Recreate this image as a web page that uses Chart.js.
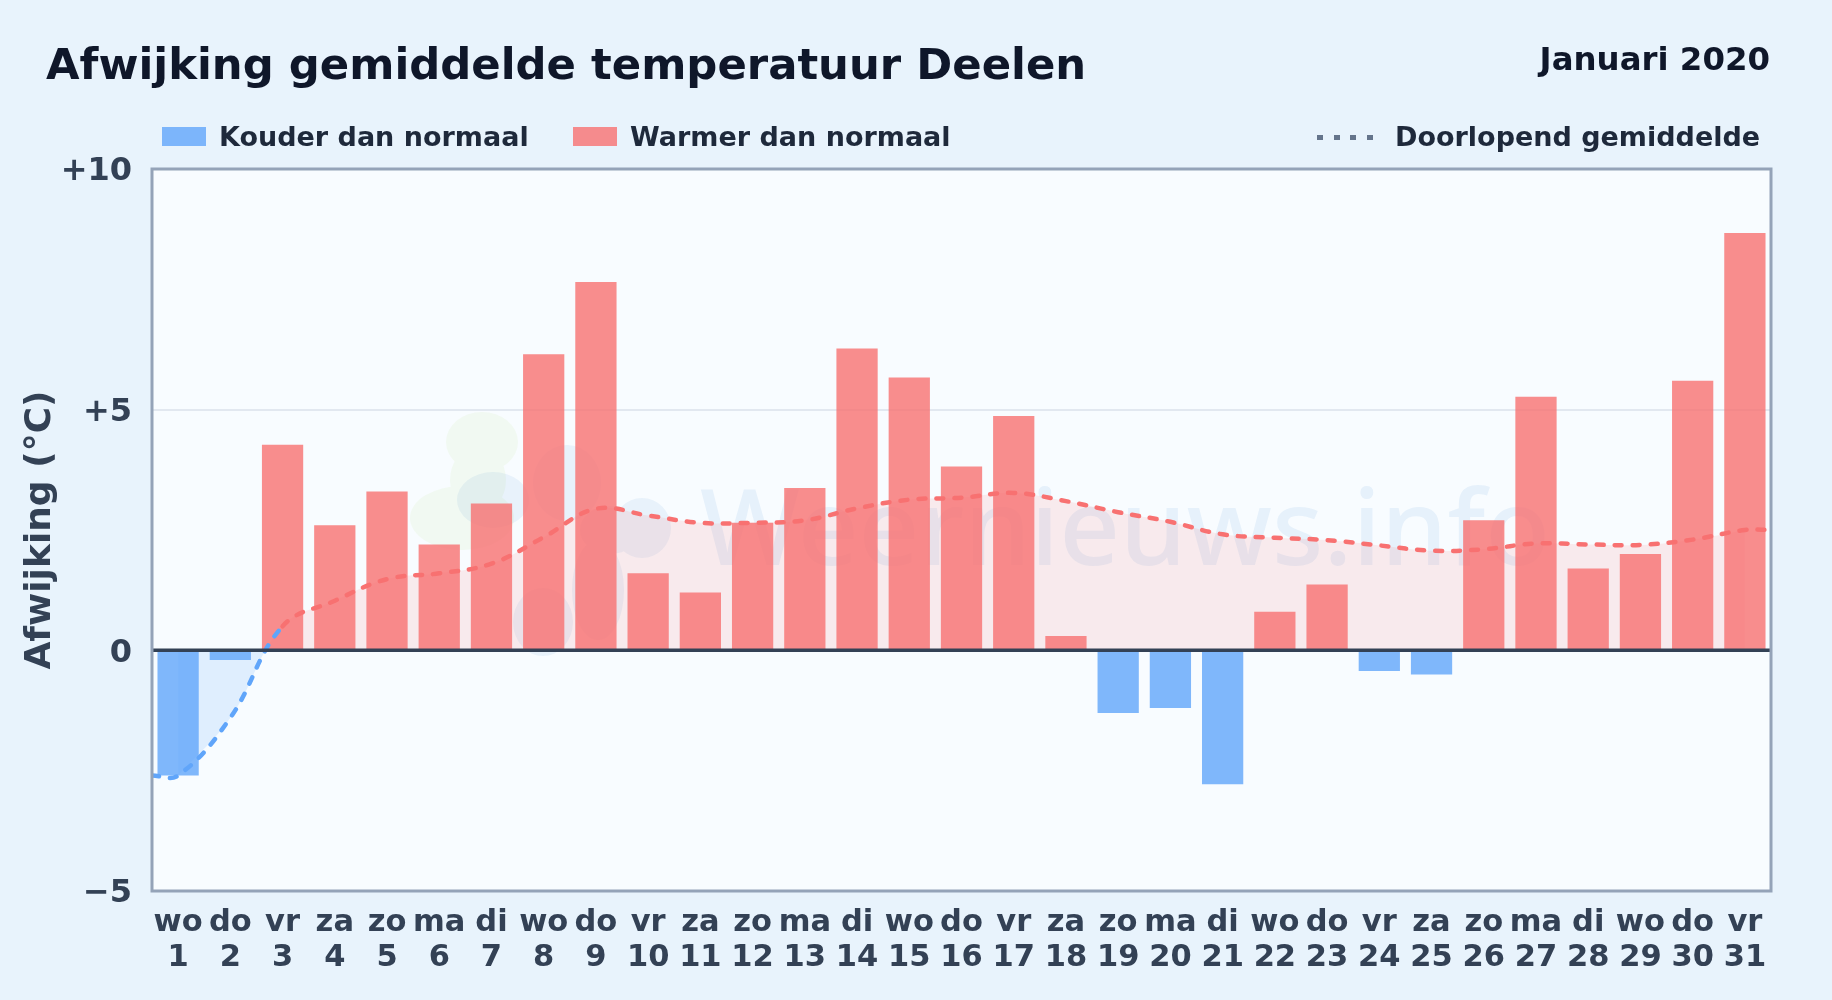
<!DOCTYPE html>
<html lang="nl">
<head>
<meta charset="utf-8">
<title>Afwijking gemiddelde temperatuur Deelen</title>
<script src="https://cdn.jsdelivr.net/npm/chart.js@4/dist/chart.umd.min.js"></script>
<style>
    html, body { margin: 0; padding: 0; }
    body {
        width: 1832px; height: 1000px; overflow: hidden; position: relative;
        background: #e8f3fc;
        font-family: 'DejaVu Sans', sans-serif; font-weight: bold;
    }
    canvas { position: absolute; left: 0; top: 0; }
    .txt { position: absolute; white-space: nowrap; line-height: 1; }
    #title { left: 46px; top: 43px; font-size: 43.35px; color: #0f172a; }
    #period { right: 62px; top: 43px; font-size: 32.4px; color: #0f172a; }
    .swatch { position: absolute; top: 127px; width: 44px; height: 19px; }
    .legend { top: 123px; font-size: 27px; color: #1e293b; }
    #dots {
        position: absolute; left: 1317px; top: 135px; width: 56px; height: 5px;
        background: repeating-linear-gradient(90deg, #64748b 0 6px, transparent 6px 16.6px);
    }
</style>
</head>
<body>
<canvas id="chartDeviation" width="1832" height="1000"></canvas>
<div class="txt" id="title">Afwijking gemiddelde temperatuur Deelen</div>
<div class="txt" id="period">Januari 2020</div>
<div class="swatch" style="left:162px;background:rgba(96,165,250,0.8)"></div>
<div class="txt legend" style="left:219px">Kouder dan normaal</div>
<div class="swatch" style="left:573px;background:rgba(248,113,113,0.8)"></div>
<div class="txt legend" style="left:630px">Warmer dan normaal</div>
<div id="dots"></div>
<div class="txt legend" style="left:1395px">Doorlopend gemiddelde</div>
<script>
const dayNames = ['wo','do','vr','za','zo','ma','di','wo','do','vr','za','zo','ma','di','wo','do','vr','za','zo','ma','di','wo','do','vr','za','zo','ma','di','wo','do','vr'];
const days = [1,2,3,4,5,6,7,8,9,10,11,12,13,14,15,16,17,18,19,20,21,22,23,24,25,26,27,28,29,30,31];
const deviations = [-2.6,-0.2,4.27,2.6,3.3,2.2,3.05,6.15,7.65,1.6,1.2,2.65,3.37,6.27,5.67,3.82,4.87,0.3,-1.3,-1.2,-2.78,0.8,1.37,-0.43,-0.5,2.7,5.27,1.7,2.0,5.6,8.67];
const avgValues = [-2.6,-1.4,0.5,1.03,1.48,1.6,1.8,2.35,2.94,2.8,2.65,2.65,2.7,2.95,3.13,3.17,3.27,3.1,2.87,2.67,2.41,2.34,2.29,2.18,2.07,2.1,2.22,2.2,2.19,2.3,2.5];
// the dotted line runs on to both plot edges, the fill stops at day 1 and 31
const avgEdgeDays = [0.5, 31.5];
const avgEdgeValues = [-2.6, 2.5];
const yTicks = { '10': '+10', '5': '+5', '0': '0', '-5': '\u22125' };

const colors = {
    cold: 'rgba(96,165,250,0.8)',
    warm: 'rgba(248,113,113,0.8)',
    coldLine: '#60a5fa',
    warmLine: '#f87171',
    axis: '#334155',
    frame: '#94a3b8',
    grid: '#e2e8f0',
    plot: '#f8fcff'
};

const avgPoints = days.map((d, i) => ({ x: d, y: avgValues[i] }));

// plot background, watermark, zero line and frame
const plotDecor = {
    id: 'plotDecor',
    beforeDraw(chart) {
        const { ctx, chartArea: a } = chart;
        ctx.save();
        ctx.fillStyle = colors.plot;
        ctx.fillRect(a.left, a.top, a.width, a.height);
        ctx.restore();
    },
    beforeDatasetsDraw(chart) {
        const { ctx } = chart;
        ctx.save();
        // logo blobs, one path per colour so overlaps do not darken
        const blobs = (c, list) => {
            ctx.fillStyle = c;
            ctx.beginPath();
            list.forEach(([x, y, rx, ry]) => {
                ctx.moveTo(x + rx, y);
                ctx.ellipse(x, y, rx, ry, 0, 0, Math.PI * 2);
            });
            ctx.fill();
        };
        blobs('rgba(190,225,130,0.10)', [[482, 442, 36, 30], [478, 480, 28, 34], [462, 518, 52, 32]]);
        blobs('rgba(30,120,200,0.07)', [[493, 500, 36, 28], [567, 483, 34, 38], [642, 528, 29, 30], [598, 590, 26, 50], [543, 622, 30, 34], [610, 530, 30, 24]]);
        ctx.fillStyle = 'rgba(30,120,200,0.08)';
        ctx.font = "500 106px 'Noto Sans', sans-serif";
        ctx.textBaseline = 'alphabetic';
        ctx.fillText('Weernieuws.info', 700, 565);
        ctx.restore();
    },
    afterDatasetsDraw(chart) {
        const { ctx, chartArea: a, scales } = chart;
        const zero = scales.y.getPixelForValue(0);
        ctx.save();
        ctx.strokeStyle = colors.axis;
        ctx.lineWidth = 3.5;
        ctx.beginPath();
        ctx.moveTo(a.left, zero);
        ctx.lineTo(a.right, zero);
        ctx.stroke();
        ctx.strokeStyle = colors.frame;
        ctx.lineWidth = 3;
        ctx.strokeRect(a.left, a.top, a.width, a.height);
        ctx.restore();
    }
};

new Chart(document.getElementById('chartDeviation').getContext('2d'), {
    type: 'bar',
    data: {
        datasets: [
            {
                // dotted running mean
                type: 'line',
                order: 0,
                data: [{ x: avgEdgeDays[0], y: avgEdgeValues[0] }, ...avgPoints, { x: avgEdgeDays[1], y: avgEdgeValues[1] }],
                borderWidth: 4.5,
                borderDash: [7, 11],
                borderCapStyle: 'round',
                borderColor: colors.warmLine,
                tension: 0.4,
                pointRadius: 0,
                fill: false,
                segment: {
                    borderColor: ctx => ctx.p0.parsed.y < 0 ? colors.coldLine : colors.warmLine
                }
            },
            {
                order: 1,
                data: days.map((d, i) => ({ x: d, y: deviations[i] })),
                backgroundColor: deviations.map(v => v < 0 ? colors.cold : colors.warm),
                borderWidth: 0,
                barPercentage: 0.79,
                categoryPercentage: 1
            },
            {
                // shaded band between the mean and zero
                type: 'line',
                order: 2,
                data: avgPoints,
                borderWidth: 0,
                tension: 0.4,
                pointRadius: 0,
                fill: { target: { value: 0 }, above: 'rgba(248,113,113,0.13)', below: 'rgba(96,165,250,0.16)' }
            }
        ]
    },
    options: {
        responsive: false,
        animation: false,
        layout: { padding: { top: 169, right: 61, left: 0, bottom: 0 } },
        plugins: { legend: { display: false }, tooltip: { enabled: false } },
        scales: {
            x: {
                type: 'linear',
                offset: false,
                min: 0.5, max: 31.5,
                grid: { display: false },
                border: { display: false },
                afterBuildTicks: s => { s.ticks = days.map(d => ({ value: d })); },
                ticks: {
                    color: colors.axis, maxRotation: 0, autoSkip: false, padding: 7,
                    font: { family: "'DejaVu Sans'", size: 30.5, weight: 'bold', lineHeight: 1.14 },
                    callback: v => [dayNames[v - 1], String(v)]
                },
                afterFit: s => { s.height = 109; }
            },
            y: {
                min: -5, max: 10,
                grid: { color: colors.grid, lineWidth: 2, drawTicks: false },
                border: { display: false },
                ticks: {
                    stepSize: 5, color: colors.axis, padding: 20, labelOffset: 3,
                    font: { family: "'DejaVu Sans'", size: 32, weight: 'bold' },
                    callback: v => yTicks[v]
                },
                title: {
                    display: true, text: 'Afwijking (\u00b0C)', color: colors.axis, padding: { top: 19, bottom: 0 },
                    font: { family: "'DejaVu Sans'", size: 36, weight: 'bold' }
                },
                afterFit: s => { s.width = 152; }
            }
        }
    },
    plugins: [plotDecor]
});
</script>
</body>
</html>
